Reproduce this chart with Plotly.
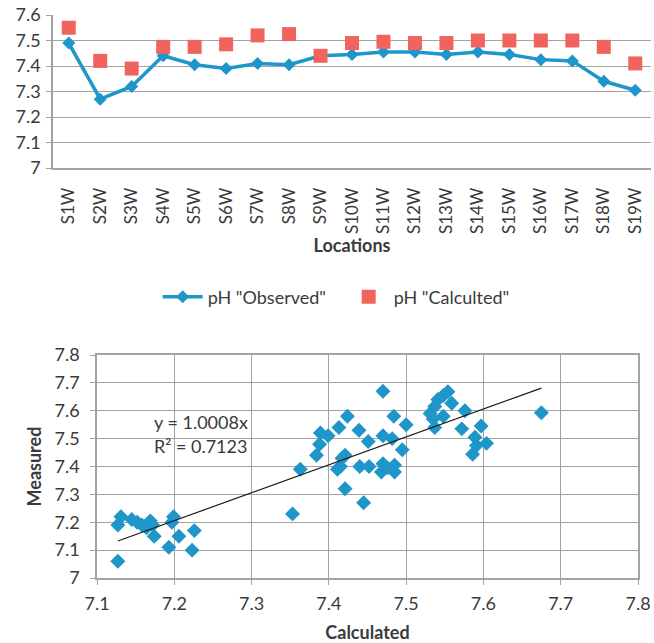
import plotly.graph_objects as go

# ---- pH by sampling location ----
locations = ["S1W", "S2W", "S3W", "S4W", "S5W", "S6W", "S7W", "S8W", "S9W", "S10W",
             "S11W", "S12W", "S13W", "S14W", "S15W", "S16W", "S17W", "S18W", "S19W"]
ph_observed = [7.49, 7.27, 7.32, 7.44, 7.405, 7.39, 7.41, 7.405, 7.44, 7.445,
               7.455, 7.455, 7.445, 7.455, 7.445, 7.425, 7.42, 7.34, 7.305]
ph_calculated = [7.55, 7.42, 7.39, 7.475, 7.475, 7.485, 7.52, 7.525, 7.44, 7.49,
                 7.495, 7.49, 7.49, 7.50, 7.50, 7.50, 7.50, 7.475, 7.41]

# ---- calculated vs measured pH ----
calc_ph = [7.127, 7.131, 7.127, 7.145, 7.152, 7.158, 7.164, 7.169, 7.172, 7.174,
           7.199, 7.197, 7.206, 7.226, 7.193, 7.223, 7.353,
           7.363, 7.384, 7.388, 7.389, 7.399, 7.413, 7.424, 7.439, 7.451, 7.470,
           7.484, 7.500, 7.470, 7.482, 7.495, 7.421, 7.417, 7.411, 7.415, 7.440,
           7.452, 7.470, 7.485, 7.468, 7.485, 7.476, 7.421, 7.445,
           7.531, 7.535, 7.537, 7.537, 7.541, 7.548, 7.554, 7.559, 7.548, 7.576,
           7.572, 7.597, 7.589, 7.604, 7.591, 7.586, 7.675]
meas_ph = [7.19, 7.22, 7.06, 7.21, 7.20, 7.19, 7.18, 7.205, 7.19, 7.15,
           7.22, 7.20, 7.15, 7.17, 7.11, 7.10, 7.23,
           7.39, 7.44, 7.48, 7.52, 7.51, 7.54, 7.58, 7.53, 7.49, 7.67,
           7.58, 7.55, 7.51, 7.50, 7.46, 7.44, 7.43, 7.39, 7.40, 7.40,
           7.40, 7.41, 7.405, 7.38, 7.38, 7.395, 7.32, 7.27,
           7.59, 7.57, 7.54, 7.615, 7.64, 7.655, 7.668, 7.627, 7.58, 7.60,
           7.535, 7.545, 7.505, 7.483, 7.475, 7.444, 7.593]
trend_slope = 1.0008
trend_r2 = 0.7123

BLUE = "#1E96CA"
RED = "#F0645D"
GRID = "#A3A3A3"
TEXT = "#3A3A3A"
FONT = "Lato"

fig = go.Figure()

fig.add_trace(go.Scatter(
    x=locations, y=ph_observed, name='pH "Observed"', mode="lines+markers",
    line=dict(color=BLUE, width=3.5),
    marker=dict(symbol="diamond", size=10, color=BLUE),
    xaxis="x", yaxis="y"))
fig.add_trace(go.Scatter(
    x=locations, y=ph_calculated, name='pH "Calculted"', mode="markers",
    marker=dict(symbol="square", size=14, color=RED),
    xaxis="x", yaxis="y"))

fig.add_trace(go.Scatter(
    x=calc_ph, y=meas_ph, mode="markers", showlegend=False,
    marker=dict(symbol="diamond", size=11.5, color=BLUE),
    xaxis="x2", yaxis="y2"))
x_fit = [min(calc_ph), max(calc_ph)]
fig.add_trace(go.Scatter(
    x=x_fit, y=[trend_slope * v for v in x_fit], mode="lines", showlegend=False,
    line=dict(color="#1a1a1a", width=1.2),
    xaxis="x2", yaxis="y2"))

W, H = 654, 643
def px_x(a, b):
    return [a / W, b / W]
def px_y(top, bottom):
    return [1 - bottom / H, 1 - top / H]

tick_font = dict(family=FONT, size=18, color=TEXT)
cat_font = dict(family=FONT, size=17, color=TEXT)
title_font = dict(family=FONT, size=18, color=TEXT, weight="bold")

fig.update_layout(
    width=W, height=H,
    margin=dict(l=0, r=0, t=0, b=0),
    paper_bgcolor="white", plot_bgcolor="white",
    font=dict(family=FONT, color=TEXT),
    xaxis=dict(domain=px_x(53, 651), anchor="y", type="category",
               range=[-0.5, len(locations) - 0.5], automargin=False,
               tickangle=-90, tickfont=cat_font, showgrid=False,
               showline=True, linecolor=GRID, linewidth=1.5,
               ticks="", ticklabelstandoff=11,
               title=dict(text="Locations", font=title_font, standoff=0)),
    yaxis=dict(domain=px_y(15, 168), anchor="x", automargin=False,
               range=[7.0, 7.6], dtick=0.1, tickfont=tick_font,
               showgrid=True, gridcolor=GRID, gridwidth=1.3,
               showline=True, linecolor=GRID, linewidth=1.5,
               ticks="outside", ticklen=5, tickcolor=GRID,
               ticklabelstandoff=2, zeroline=False),
    xaxis2=dict(domain=px_x(97, 638), anchor="y2", automargin=False,
                range=[7.1, 7.8], dtick=0.1, tickfont=tick_font,
                showgrid=True, gridcolor=GRID, gridwidth=1.3,
                showline=True, linecolor=GRID, linewidth=1.5, mirror=True,
                ticks="outside", ticklen=5, tickcolor=GRID, zeroline=False,
                ticklabelstandoff=4,
                title=dict(text="Calculated", font=title_font, standoff=20)),
    yaxis2=dict(domain=px_y(355, 578), anchor="x2", automargin=False,
                range=[7.0, 7.8], dtick=0.1, tickfont=tick_font,
                showgrid=True, gridcolor=GRID, gridwidth=1.3,
                showline=True, linecolor=GRID, linewidth=1.5, mirror=True,
                ticks="outside", ticklen=5, tickcolor=GRID, zeroline=False,
                ticklabelstandoff=7,
                title=dict(text="Measured", font=title_font, standoff=8)),
    legend=dict(orientation="h", x=0.5255, y=1 - 297 / H, xanchor="center",
                yanchor="middle", font=dict(family=FONT, size=18, color=TEXT),
                itemwidth=40, entrywidth=131, entrywidthmode="pixels",
                bgcolor="rgba(0,0,0,0)"),
    annotations=[
        dict(text=f"y = {trend_slope:.4f}x", xref="paper", yref="paper",
             x=152 / W, y=1 - 422 / H, xanchor="left", yanchor="middle",
             showarrow=False, font=dict(family=FONT, size=18, color=TEXT)),
        dict(text=f"R² = {trend_r2:.4f}", xref="paper", yref="paper",
             x=152 / W, y=1 - 446 / H, xanchor="left", yanchor="middle",
             showarrow=False, font=dict(family=FONT, size=18, color=TEXT)),
    ],
)

fig.write_html("out.html")
